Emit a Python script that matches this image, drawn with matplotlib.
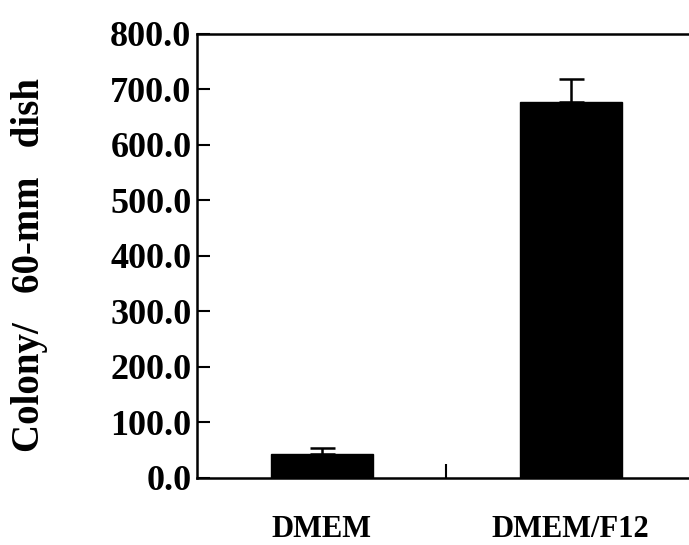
import matplotlib.pyplot as plt
from matplotlib.ticker import FixedLocator

# colony counts per 60-mm dish
media = ['DMEM', 'DMEM/F12']
colonies = [43, 678]
err = [11, 41]

yticks = [0, 100, 200, 300, 400, 500, 600, 700, 800]

plt.rcParams['font.family'] = ['Liberation Serif', 'DejaVu Serif']
plt.rcParams['font.weight'] = 'bold'

fig = plt.figure(figsize=(6.89, 5.45), dpi=100)
# axes runs a bit past the right edge of the picture, as in the scan
ax = fig.add_axes([0.286, 0.123, 0.723, 0.815])

x = list(range(len(media)))
ax.bar(x, colonies, width=0.41, color='black', edgecolor='black')
ax.errorbar(x, [c + e / 2 for c, e in zip(colonies, err)], yerr=[[e / 2 for e in err], [e / 2 for e in err]],
            fmt='none', ecolor='black', elinewidth=1.8, capsize=9, capthick=1.8)

ax.set_xlim(-0.5, 1.5)
ax.set_ylim(0, 800)
ax.set_yticks(yticks)
ax.set_yticklabels(['%.1f' % v for v in yticks], fontsize=26, fontweight='bold')
ax.set_xticks(x)
ax.set_xticklabels(media, fontsize=22, fontweight='bold')
ax.xaxis.set_minor_locator(FixedLocator([0.5]))

ax.tick_params(axis='y', direction='in', length=9, width=1.5, pad=4)
ax.tick_params(axis='x', which='major', length=0, pad=27)
ax.tick_params(axis='x', which='minor', direction='in', length=10, width=1.5)

for s in ['left', 'bottom', 'top', 'right']:
    ax.spines[s].set_linewidth(1.8)

ax.set_ylabel('Colony/   60-mm   dish', fontsize=28, fontweight='bold')
ax.yaxis.set_label_coords(-0.30, 0.48)

fig.savefig('out.png', dpi=100)
